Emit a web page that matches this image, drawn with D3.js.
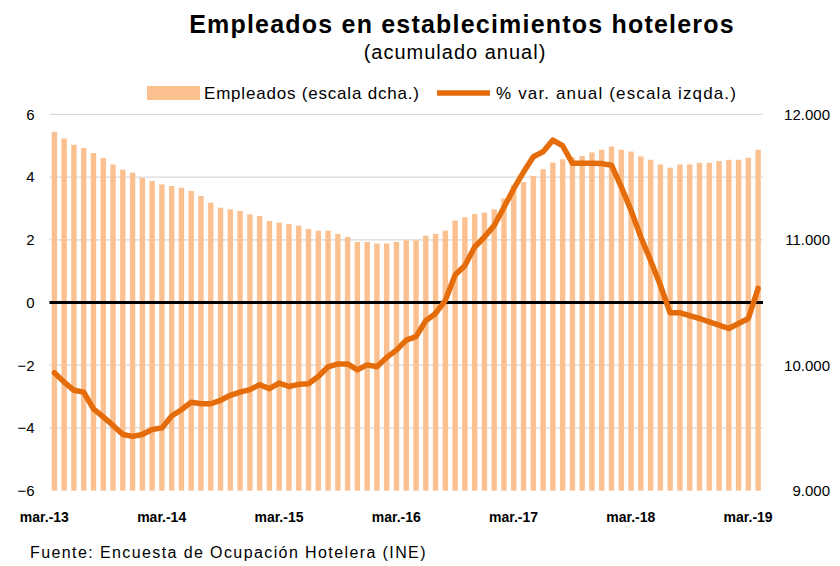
<!DOCTYPE html>
<html>
<head>
<meta charset="utf-8">
<script src="https://cdn.jsdelivr.net/npm/d3@7"></script>
<style>
  body { margin: 0; background: #fff; }
  svg text { font-family: "Liberation Sans", Arial, sans-serif; fill: #000; }
</style>
</head>
<body>
<div id="chart"></div>
<script>
// monthly, mar-13 .. mar-19
const months = d3.range(73);
const tickLabels = ["mar.-13", "mar.-14", "mar.-15", "mar.-16", "mar.-17", "mar.-18", "mar.-19"];

// employees, accumulated annual (right axis)
const empleados = [
  11861, 11808, 11758, 11731, 11692, 11652, 11601, 11559, 11535, 11493, 11469, 11442,
  11429, 11415, 11389, 11349, 11296, 11256, 11243, 11230, 11203, 11190, 11150, 11137,
  11126, 11113, 11087, 11073, 11073, 11047, 11023, 10983, 10983, 10970, 10970, 10983,
  10996, 10996, 11033, 11047, 11073, 11153, 11179, 11206, 11216, 11243, 11330, 11435,
  11460, 11509, 11563, 11616, 11642, 11658, 11668, 11696, 11718, 11744, 11718, 11704,
  11665, 11638, 11601, 11575, 11601, 11601, 11614, 11614, 11628, 11638, 11638, 11654,
  11718
];

// % annual change (left axis)
const varAnual = [
  -2.24, -2.54, -2.80, -2.86, -3.39, -3.65, -3.92, -4.21, -4.27, -4.21, -4.05, -4.00,
  -3.62, -3.42, -3.18, -3.23, -3.23, -3.12, -2.96, -2.86, -2.78, -2.62, -2.75, -2.57,
  -2.68, -2.61, -2.59, -2.36, -2.05, -1.96, -1.96, -2.15, -1.99, -2.05, -1.75, -1.52,
  -1.20, -1.09, -0.58, -0.35, 0.07, 0.88, 1.18, 1.77, 2.09, 2.46, 3.04, 3.63,
  4.16, 4.65, 4.81, 5.18, 5.00, 4.44, 4.44, 4.44, 4.43, 4.38, 3.69, 2.94,
  2.09, 1.34, 0.55, -0.33, -0.33, -0.42, -0.51, -0.62, -0.72, -0.83, -0.67, -0.51,
  0.45
];

const leftTicks = [6, 4, 2, 0, -2, -4, -6];
const rightTicks = [12000, 11000, 10000, 9000];

const W = 840, H = 566;
const plot = { left: 49.5, right: 763, top: 114.4, bottom: 490.6 };

const svg = d3.select("#chart").append("svg")
    .attr("width", W)
    .attr("height", H);

const x = d3.scaleBand()
    .domain(months)
    .range([plot.left, plot.right])
    .paddingInner(0.45)
    .paddingOuter(0.225);

const yL = d3.scaleLinear().domain([-6, 6]).range([plot.bottom, plot.top]);
const yR = d3.scaleLinear().domain([9000, 12000]).range([plot.bottom, plot.top]);

const es = d3.formatLocale({ decimal: ",", thousands: ".", grouping: [3], currency: ["", "€"] });
const fmtR = es.format(",.0f");

// gridlines
svg.append("g")
    .selectAll("line")
    .data(leftTicks.filter(d => d !== 0 && d !== -6))
    .join("line")
    .attr("x1", plot.left).attr("x2", plot.right)
    .attr("y1", d => yL(d)).attr("y2", d => yL(d))
    .attr("stroke", "#d9d9d9")
    .attr("stroke-width", 1.2);

// bars
svg.append("g")
    .selectAll("rect")
    .data(empleados)
    .join("rect")
    .attr("x", (d, i) => x(i))
    .attr("width", x.bandwidth())
    .attr("y", d => yR(d))
    .attr("height", d => yR(9000) - yR(d))
    .attr("fill", "#fac090");

// zero line
svg.append("line")
    .attr("x1", plot.left).attr("x2", plot.right)
    .attr("y1", yL(0)).attr("y2", yL(0))
    .attr("stroke", "#000")
    .attr("stroke-width", 3);

// line
const line = d3.line()
    .x((d, i) => x(i) + x.bandwidth() / 2)
    .y(d => yL(d));

svg.append("path")
    .datum(varAnual)
    .attr("d", line)
    .attr("fill", "none")
    .attr("stroke", "#e46c0a")
    .attr("stroke-width", 5.5)
    .attr("stroke-linejoin", "round")
    .attr("stroke-linecap", "round");

// left axis
svg.append("g")
    .attr("transform", `translate(${plot.left},0)`)
    .call(d3.axisLeft(yL).tickValues(leftTicks).tickSize(0).tickPadding(15))
    .call(g => g.select(".domain").remove())
    .selectAll("text")
    .attr("font-size", 15)
    .attr("font-family", "Liberation Sans, Arial, sans-serif");

// right axis
svg.append("g")
    .attr("transform", `translate(830,0)`)
    .call(d3.axisLeft(yR).tickValues(rightTicks).tickSize(0).tickPadding(0).tickFormat(fmtR))
    .call(g => g.select(".domain").remove())
    .selectAll("text")
    .attr("font-size", 15)
    .attr("font-family", "Liberation Sans, Arial, sans-serif");

// x axis labels
const xAxis = d3.axisBottom(x)
    .tickValues(d3.range(0, 73, 12))
    .tickSize(0)
    .tickPadding(21)
    .tickFormat((d, i) => tickLabels[i]);

svg.append("g")
    .attr("transform", `translate(-10,${plot.bottom})`)
    .call(xAxis)
    .call(g => g.select(".domain").remove())
    .selectAll("text")
    .attr("font-size", 14)
    .attr("font-weight", "bold")
    .attr("font-family", "Liberation Sans, Arial, sans-serif");

// title
svg.append("text")
    .attr("x", 462).attr("y", 33)
    .attr("text-anchor", "middle")
    .attr("font-size", 25)
    .attr("font-weight", "bold")
    .attr("letter-spacing", 1.2)
    .text("Empleados en establecimientos hoteleros");

svg.append("text")
    .attr("x", 455).attr("y", 59)
    .attr("text-anchor", "middle")
    .attr("font-size", 20)
    .attr("letter-spacing", 1.0)
    .text("(acumulado anual)");

// legend
const leg = svg.append("g");
leg.append("rect")
    .attr("x", 147).attr("y", 86).attr("width", 53).attr("height", 14)
    .attr("fill", "#fac090");
leg.append("text")
    .attr("x", 204).attr("y", 99)
    .attr("font-size", 17)
    .attr("letter-spacing", 0.8)
    .text("Empleados (escala dcha.)");
leg.append("line")
    .attr("x1", 437).attr("x2", 490).attr("y1", 93).attr("y2", 93)
    .attr("stroke", "#e46c0a").attr("stroke-width", 5.5);
leg.append("text")
    .attr("x", 496).attr("y", 99)
    .attr("font-size", 17)
    .attr("letter-spacing", 1.15)
    .text("% var. anual (escala izqda.)");

// source
svg.append("text")
    .attr("x", 30).attr("y", 558)
    .attr("font-size", 16)
    .attr("letter-spacing", 1.4)
    .text("Fuente: Encuesta de Ocupación Hotelera (INE)");
</script>
</body>
</html>
